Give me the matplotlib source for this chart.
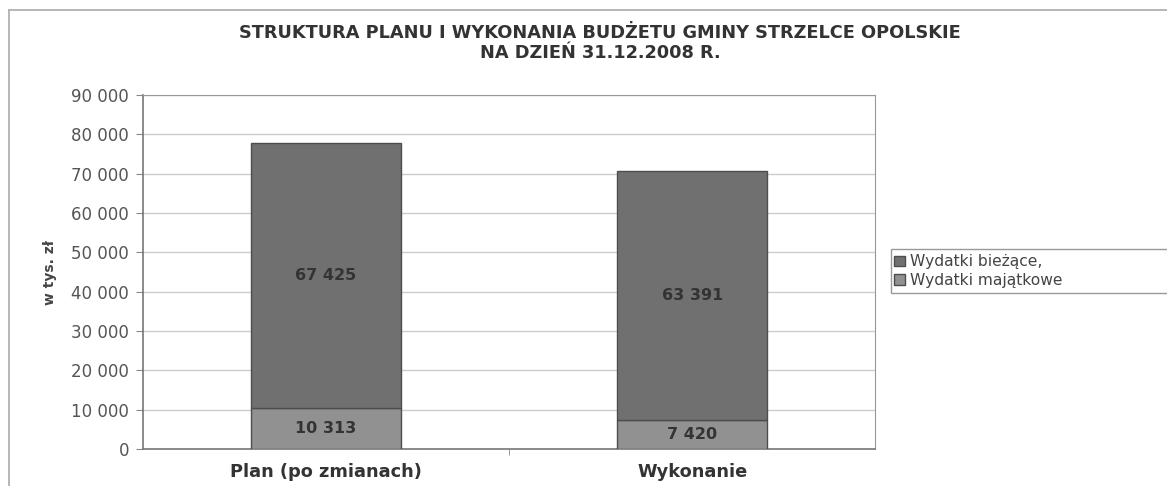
import numpy as np
import matplotlib.pyplot as plt
from matplotlib.lines import Line2D
from matplotlib.patches import Rectangle

plt.rcParams['font.family'] = ['DejaVu Sans']

categories = ["Plan (po zmianach)", "Wykonanie"]
majatkowe = [10313, 7420]
biezace = [67425, 63391]
yticks = [0, 10000, 20000, 30000, 40000, 50000, 60000, 70000, 80000, 90000]

def fmt(v):
    return f"{v:,}".replace(",", " ")

fig = plt.figure(figsize=(11.67, 4.86), dpi=100)
ax = fig.add_axes([0.1225, 0.076, 0.6275, 0.7285])

x = np.arange(len(categories))
c_dark = "#707070"
c_light = "#919191"
edge = "#4d4d4d"

b1 = ax.bar(x, majatkowe, width=0.41, color=c_light, edgecolor=edge, linewidth=1.0,
            label="Wydatki majątkowe", zorder=3)
b2 = ax.bar(x, biezace, width=0.41, bottom=majatkowe, color=c_dark, edgecolor=edge,
            linewidth=1.0, label="Wydatki bieżące,", zorder=3)

for i in range(len(categories)):
    ax.text(x[i], majatkowe[i] / 2, fmt(majatkowe[i]), ha="center", va="center",
            fontsize=11.5, fontweight="bold", color="#333333", zorder=4)
    ax.text(x[i], majatkowe[i] + biezace[i] / 2, fmt(biezace[i]), ha="center", va="center",
            fontsize=11.5, fontweight="bold", color="#333333", zorder=4)

ax.set_ylim(0, 90000)
ax.set_xlim(-0.5, 1.5)
ax.set_yticks(yticks)
ax.set_yticklabels([fmt(v) for v in yticks], fontsize=12, color="#555555")
ax.yaxis.grid(True, color="#cccccc", linewidth=1.0, zorder=0)
ax.set_xticks(x)
ax.set_xticklabels(categories, fontsize=12.8, fontweight="bold", color="#333333")
ax.tick_params(axis="x", length=0, pad=10)
ax.set_xticks([0.5], minor=True)
ax.tick_params(axis="x", which="minor", length=4, color="#888888")
ax.tick_params(axis="y", length=5, color="#888888", pad=5)
ax.set_ylabel("w tys. zł", fontsize=10, fontweight="bold", color="#444444", labelpad=10)
for s in ax.spines.values():
    s.set_color("#999999")
for s in ["left", "bottom"]:
    ax.spines[s].set_color("#777777")
    ax.spines[s].set_linewidth(1.2)

fig.text(0.514, 0.912, "STRUKTURA PLANU I WYKONANIA BUDŻETU GMINY STRZELCE OPOLSKIE\nNA DZIEŃ 31.12.2008 R.",
         ha="center", va="center", fontsize=12.8, fontweight="bold", color="#333333",
         linespacing=1.15)

# outer chart frame
fig.add_artist(Line2D([9 / 1167, 1.0], [0.979, 0.979], color="#aaaaaa", lw=1.2))
fig.add_artist(Line2D([9 / 1167, 9 / 1167], [0.0, 0.979], color="#aaaaaa", lw=1.2))

# legend box running off the right edge
fig.add_artist(Rectangle((891 / 1167, 1 - 293 / 486), 0.3, 44 / 486, transform=fig.transFigure,
                         facecolor="white", edgecolor="#999999", lw=1.0, clip_on=False))
leg = fig.legend(handles=[b2, b1], labels=["Wydatki bieżące,", "Wydatki majątkowe"],
                 loc="center left", bbox_to_anchor=(891 / 1167, 1 - 271 / 486),
                 frameon=False, fontsize=11.2, handlelength=0.7, handleheight=0.7,
                 handletextpad=0.3, labelspacing=0.2, borderpad=0.1, borderaxespad=0.1,
                 labelcolor="#444444")

fig.savefig("out.png", dpi=100)
